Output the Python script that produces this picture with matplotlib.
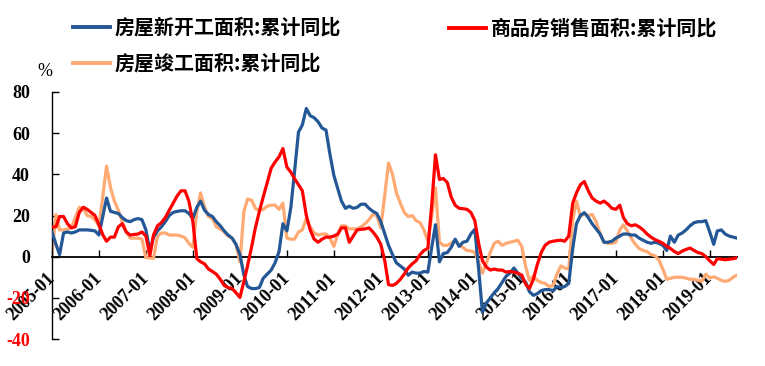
import numpy as np
import pandas as pd
import matplotlib
matplotlib.use("Agg")
import matplotlib.pyplot as plt
import matplotlib.dates as mdates
from matplotlib.lines import Line2D

# monthly, 2005-01 .. 2019-08
start_month = "2005-01-01"
n_months = 176

new_starts = [
    12, 6, 1, 11.5, 12, 11.5, 12, 13, 13, 13, 12.8, 12.5,
    10.5, 20, 28.5, 22, 21.5, 21, 19, 17.5, 17, 18, 18.5, 18,
    13, 2.5, 9.5, 12.5, 14.5, 17, 20, 21.5, 22, 22.3, 22.3, 21,
    18.5, 24, 27, 22.5, 20.5, 19.5, 17, 15, 12.5, 10.5, 9, 6,
    1, -9, -14.5, -15.5, -15.5, -15, -10.5, -8.5, -6.5, -3, 2.5, 16,
    12.5, 24, 41, 60.5, 64, 72, 68.5, 67.5, 65.5, 62.5, 61.5, 50,
    39.5, 33, 27, 23.5, 24.5, 23.5, 24, 25.5, 25.5, 23.5, 22, 21,
    17, 11, 5.5, 1, -3, -4.5, -6, -9, -7.5, -8, -8, -7.2,
    -7.5, 5, 15.5, -2.5, 1.5, 2, 4.5, 8.5, 5, 7, 7.5, 11,
    13.3, -7, -27, -22.5, -20, -17.5, -15.5, -12.5, -9.5, -8, -5.5, -8,
    -10.5, -12.5, -17, -18.8, -18, -16.5, -16, -16, -16.5, -14.5, -15, -14.5,
    -13, 4, 16, 20, 21.4, 19, 16, 13.5, 11, 7, 7, 7.5,
    9, 10, 11, 11, 10.5, 10.5, 9, 8, 7, 6.5, 7, 6.5,
    5.5, 3, 10, 7, 10.5, 11.5, 13, 15, 16.5, 17, 17, 17.5,
    12, 6, 12.5, 13, 11, 10, 9.5, 9,
]

sales = [
    14.5, 14.5, 19.5, 19.5, 16, 14, 14.5, 21.5, 24, 23, 21.5, 20,
    15.5, 10.5, 7.5, 9.5, 9.5, 14.5, 16, 12, 10.5, 10.8, 11, 12,
    10, 0.5, 10.5, 15, 16.5, 19, 22.5, 26, 29.5, 32, 32, 27,
    17, -1, -2.5, -3.5, -6, -7.2, -8.5, -11, -14, -15, -15.5, -17.5,
    -19.8, -12, -4.5, 4.5, 14, 22, 29, 36, 43, 46, 48.5, 52.5,
    43.5, 41, 38, 35, 32, 20, 13, 8.5, 7, 8.5, 9.5, 9.5,
    10, 11, 14, 14, 7, 10, 13, 13.3, 13.5, 14, 12, 9.5,
    6, -2, -13.6, -14, -13, -11, -8.5, -5.5, -3.5, -2, 1, 3,
    4, 26, 49.5, 37.5, 38, 36, 29, 25, 23.5, 23.3, 23, 21.5,
    17.5, 6, -2, -5, -6.5, -6, -6.5, -6.5, -7.5, -7.2, -7.5, -8,
    -9, -13.5, -15.5, -11, -4, 2, 5.5, 7, 7.5, 7.8, 8, 7.5,
    10, 26, 31, 35, 36.5, 32, 28.5, 27, 26, 27, 25.5, 23.5,
    23, 25, 19, 16, 15, 15.5, 14.5, 13, 11, 9.5, 8.3, 7.5,
    6.5, 5, 4, 2.5, 1.5, 2.7, 3.5, 4.2, 3, 2, 1.5, 0,
    -2, -3.8, -1, -1.2, -1.5, -1.2, -1, -0.5,
]

completed = [
    2, 20.5, 13, 13, 13.5, 14, 19, 24, 23.5, 20, 19.5, 18,
    15, 30, 44, 33.5, 27, 22.5, 17, 12, 9, 9, 9, 8.5,
    -0.5, -0.6, -0.8, 10, 11.5, 11.5, 10.5, 10.5, 10.5, 10, 9.2, 6.5,
    4.5, 22, 31, 24, 19.5, 18.5, 14.5, 13.5, 12, 10, 9, 6,
    -2.5, 22, 28, 27.5, 23.5, 22.3, 23, 24.5, 25, 25, 23, 26,
    9, 8.5, 8.5, 12, 13, 18.5, 14.5, 11.5, 10.5, 11, 11, 9,
    5, 11, 15, 15, 13.5, 13.5, 13.5, 14.5, 16, 18, 20.5, 20,
    14, 30, 45.5, 40, 31, 26, 21.5, 19.5, 20, 17.5, 16.5, 13,
    7.5, 20, 33.5, 7, 5.5, 5.5, 6.5, 8, 5.5, 4.5, 3, 2.8,
    2, -3, -8, -3, 2, 6.5, 7.5, 5.5, 6.5, 7, 7.5, 8,
    5, -5, -11.5, -9.5, -11.5, -12.5, -13, -14.5, -14, -8.5, -4.5, -5.5,
    -6, 18, 27, 19.5, 21, 20, 20.5, 17, 11, 7, 6.5, 6.5,
    7, 13, 15.5, 12.5, 9, 6, 4, 3, 2.5, 1, 0.5, -1.5,
    -6, -11, -10.5, -10, -10, -10, -10.5, -11, -11, -11.5, -12, -8.5,
    -10.3, -9.8, -10.5, -11.5, -12, -11.5, -10, -9,
]

series_names = ["房屋新开工面积:累计同比", "房屋竣工面积:累计同比", "商品房销售面积:累计同比"]
colors = ["#245795", "#FFAA73", "#FF0000"]
y_ticks = [-40, -20, 0, 20, 40, 60, 80]

dates = pd.date_range(start_month, periods=n_months, freq="MS")

W, H = 765, 366
fig = plt.figure(figsize=(W / 100, H / 100), dpi=100)
ax = fig.add_axes([52 / W, 1 - 339 / H, (737 - 52) / W, (339 - 92) / H])

ax.plot(dates, completed, color=colors[1], lw=2.3, zorder=2, solid_joinstyle="round")
ax.plot(dates, new_starts, color=colors[0], lw=2.3, zorder=3, solid_joinstyle="round")
ax.plot(dates, sales, color=colors[2], lw=2.3, zorder=4, solid_joinstyle="round")

ax.set_xlim(dates[0], dates[-1])
ax.set_ylim(-40, 80)

for s in ["top", "right"]:
    ax.spines[s].set_visible(False)
ax.spines["bottom"].set_position(("data", 0))
ax.spines["bottom"].set_linewidth(1.3)
ax.spines["left"].set_linewidth(1.0)
ax.spines["bottom"].set_zorder(1)

ax.xaxis.set_major_locator(mdates.YearLocator(1, month=1, day=1))
ax.xaxis.set_major_formatter(mdates.DateFormatter("%Y-%m"))
ax.tick_params(axis="x", direction="in", length=5, width=1, pad=14)
ax.tick_params(axis="y", direction="in", length=5, width=1, pad=16)

ax.set_yticks(y_ticks)
ax.set_yticklabels([str(v) for v in y_ticks])
for lab, v in zip(ax.get_yticklabels(), y_ticks):
    lab.set_fontfamily("Liberation Serif")
    lab.set_fontweight("bold")
    lab.set_fontsize(13)
    lab.set_color("#FF0000" if v < 0 else "black")

for lab in ax.get_xticklabels():
    lab.set_fontfamily("Liberation Serif")
    lab.set_fontweight("bold")
    lab.set_fontsize(13)
    lab.set_rotation(45)
    lab.set_ha("right")
    lab.set_va("center")
    lab.set_rotation_mode("anchor")

fig.text(45 / W, 1 - 72 / H, "%", fontsize=13, fontfamily="Liberation Serif",
         ha="center", va="center")

# legend
leg_font = ["Noto Sans CJK SC", "DejaVu Sans"]
entries = [(73, 27, 0), (73, 63, 1), (449, 28, 2)]
for x0, y0, k in entries:
    fig.add_artist(Line2D([x0 / W, (x0 + 37) / W], [1 - y0 / H, 1 - y0 / H],
                          color=colors[k], lw=2.8, transform=fig.transFigure))
    fig.text((x0 + 42) / W, 1 - y0 / H, series_names[k], fontsize=14.4,
             fontfamily=leg_font, fontweight="bold", ha="left", va="center")

fig.savefig("out.png", dpi=100)
